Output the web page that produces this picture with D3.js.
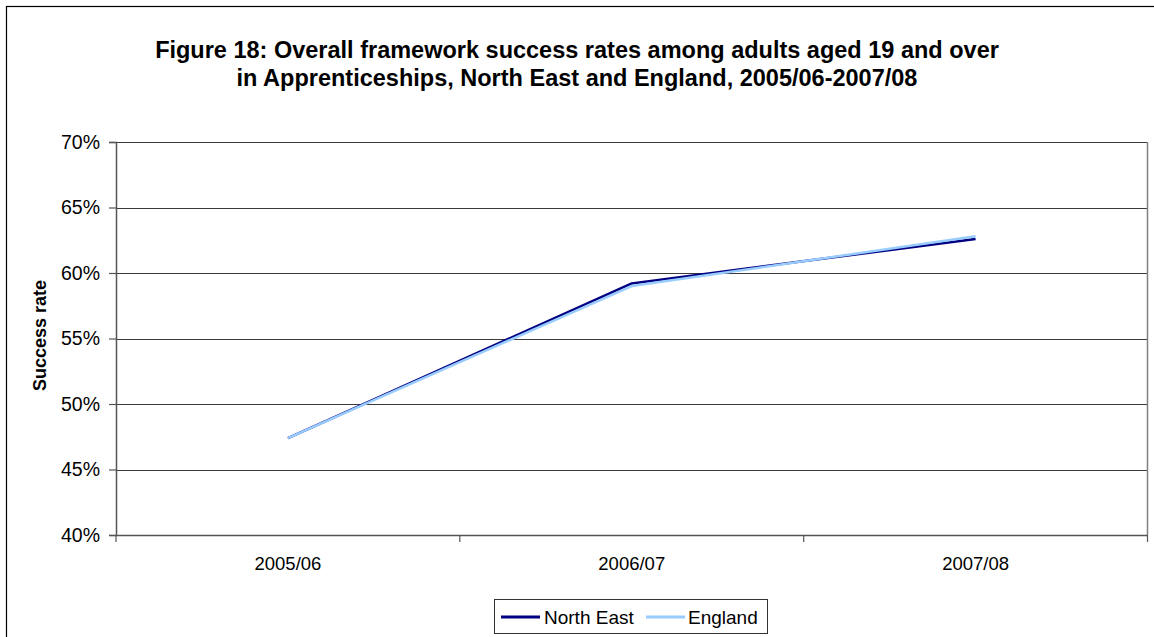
<!DOCTYPE html>
<html>
<head>
<meta charset="utf-8">
<script src="https://cdn.jsdelivr.net/npm/d3@7"></script>
<style>
  html, body { margin: 0; padding: 0; background: #fff; }
  svg { display: block; font-family: "Liberation Sans", Arial, sans-serif; }
</style>
</head>
<body>
<svg id="chart" width="1154" height="637"></svg>
<script>
// Academic years on the category axis
const years = ["2005/06", "2006/07", "2007/08"];
// Overall framework success rates (%)
const northEast = [47.4, 59.2, 62.6];
const england = [47.4, 59.0, 62.8];
// Value axis ticks (%)
const yTicks = [40, 45, 50, 55, 60, 65, 70];

const titleLines = [
  "Figure 18: Overall framework success rates among adults aged 19 and over",
  "in Apprenticeships, North East and England, 2005/06-2007/08"
];

const svg = d3.select("#chart");
const W = 1154, H = 637;

// outer chart border
svg.append("rect")
  .attr("x", 6.5).attr("y", 6.5)
  .attr("width", W + 20).attr("height", H + 20)
  .attr("fill", "none").attr("stroke", "#000").attr("stroke-width", 1.2);

// title
svg.append("g").selectAll("text").data(titleLines).join("text")
  .attr("x", 577)
  .attr("y", (d, i) => 58 + i * 28)
  .attr("text-anchor", "middle")
  .attr("font-weight", "bold")
  .attr("font-size", 23.5)
  .attr("fill", "#000")
  .text(d => d);

const plot = { left: 116, right: 1147.5, top: 142, bottom: 535 };

const x = d3.scaleBand().domain(years).range([plot.left, plot.right]).padding(0);
const y = d3.scaleLinear().domain([40, 70]).range([plot.bottom, plot.top]);

// horizontal gridlines
svg.append("g").selectAll("line").data(yTicks.filter(t => t > 40)).join("line")
  .attr("x1", plot.left).attr("x2", plot.right)
  .attr("y1", d => Math.round(y(d)) + 0.5).attr("y2", d => Math.round(y(d)) + 0.5)
  .attr("stroke", "#3a3a3a").attr("stroke-width", 1);

// right edge of plot frame
svg.append("line")
  .attr("x1", plot.right).attr("x2", plot.right)
  .attr("y1", plot.top).attr("y2", plot.bottom)
  .attr("stroke", "#808080").attr("stroke-width", 1.5);

// y axis
const yAxis = d3.axisLeft(y).tickValues(yTicks).tickFormat(d => d + "%").tickSize(7).tickPadding(9);
const gy = svg.append("g").attr("transform", `translate(${plot.left},0)`).call(yAxis);
gy.select(".domain").attr("stroke", "#555").attr("stroke-width", 1.5);
gy.selectAll(".tick line").attr("stroke", "#555").attr("stroke-width", 1.2);
gy.selectAll("text").attr("font-size", 19.5).attr("font-family", "Liberation Sans, Arial, sans-serif").attr("fill", "#000");

// x axis with ticks at category boundaries
const xAxis = d3.axisBottom(x).tickSize(0).tickPadding(22);
const gx = svg.append("g").attr("transform", `translate(0,${plot.bottom})`).call(xAxis);
gx.select(".domain").attr("stroke", "#555").attr("stroke-width", 1.5);
gx.selectAll("text").attr("font-size", 18.5).attr("font-family", "Liberation Sans, Arial, sans-serif").attr("fill", "#000");
const boundaries = years.map(d => x(d)).concat([x(years[years.length - 1]) + x.bandwidth()]);
svg.append("g").selectAll("line").data(boundaries).join("line")
  .attr("x1", d => d).attr("x2", d => d)
  .attr("y1", plot.bottom).attr("y2", plot.bottom + 7)
  .attr("stroke", "#555").attr("stroke-width", 1.2);

// y axis title
svg.append("text")
  .attr("transform", `translate(46,${(plot.top + plot.bottom) / 2 - 3}) rotate(-90)`)
  .attr("text-anchor", "middle")
  .attr("font-weight", "bold")
  .attr("font-size", 18)
  .text("Success rate");

// series lines
const cx = d => x(d) + x.bandwidth() / 2;
const series = [
  { name: "North East", values: northEast, color: "#000080" },
  { name: "England", values: england, color: "#99ccff" }
];
const line = d3.line().x(d => cx(d.year)).y(d => y(d.v));
svg.append("g").selectAll("path").data(series).join("path")
  .attr("d", s => line(years.map((yr, i) => ({ year: yr, v: s.values[i] }))))
  .attr("fill", "none")
  .attr("stroke", s => s.color)
  .attr("stroke-width", 2.5)
  .attr("stroke-linejoin", "round");

// legend
const lg = svg.append("g");
lg.append("rect")
  .attr("x", 494.5).attr("y", 599.5).attr("width", 273).attr("height", 34)
  .attr("fill", "#fff").attr("stroke", "#333").attr("stroke-width", 1);
const legendItems = [
  { s: series[0], lx: 501, tx: 544 },
  { s: series[1], lx: 646, tx: 688 }
];
legendItems.forEach(it => {
  lg.append("line")
    .attr("x1", it.lx).attr("x2", it.lx + 39)
    .attr("y1", 617).attr("y2", 617)
    .attr("stroke", it.s.color).attr("stroke-width", 3);
  lg.append("text")
    .attr("x", it.tx).attr("y", 623.5)
    .attr("font-size", 19)
    .text(it.s.name);
});
</script>
</body>
</html>
